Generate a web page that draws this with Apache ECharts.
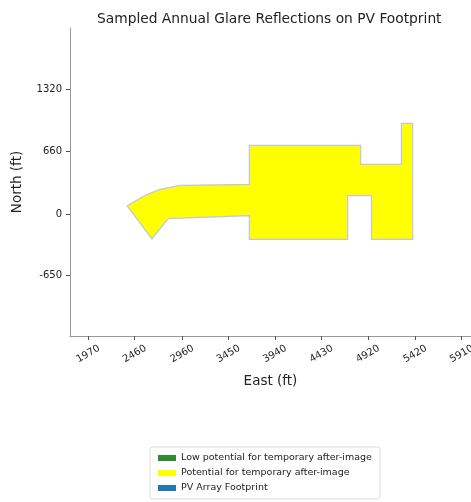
<!DOCTYPE html>
<html>
<head>
<meta charset="utf-8">
<script src="https://cdn.jsdelivr.net/npm/echarts@6/dist/echarts.min.js"></script>
<style>html,body{margin:0;padding:0;background:#fff;}#c{width:471px;height:502px;}</style>
</head>
<body>
<div id="c"></div>
<script>
// Tick labels
const xTicks = [1970, 2460, 2960, 3450, 3940, 4430, 4920, 5420, 5910];
const yTicks = [-650, 0, 660, 1320];
// PV footprint / glare polygon vertices (East ft, North ft)
const polyEast  = [2389, 2642, 2811, 3676, 3676, 4700, 4700, 4964, 4964, 5386, 5386, 5280, 5280, 4837, 4837, 3676, 3676, 2938, 2727, 2568];
const polyNorth = [84, -253, -42, -11, -262, -262, 200, 200, -260, -260, 950, 950, 517, 517, 718, 718, 306, 295, 253, 190];
const legendNames = ['Low potential for temporary after-image', 'Potential for temporary after-image', 'PV Array Footprint'];
const legendColors = ['#2e8b2e', '#ffff00', '#1f77b4'];

const pts = polyEast.map((e, i) => [e, polyNorth[i]]);
function polyRender(fill, stroke, lw) {
  return function (params, api) {
    if (params.dataIndex !== 0) return null;
    const p = pts.map(d => api.coord(d));
    return { type: 'polygon', shape: { points: p }, style: { fill: fill, stroke: stroke, lineWidth: lw } };
  };
}
const chart = echarts.init(document.getElementById('c'), null, { renderer: 'canvas' });
const FONT = 'DejaVu Sans';
chart.setOption({
  animation: false,
  textStyle: { fontFamily: FONT },
  title: { text: 'Sampled Annual Glare Reflections on PV Footprint', left: 92, top: 7,
    textStyle: { fontFamily: FONT, fontSize: 13.8, fontWeight: 'normal', color: '#222' } },
  grid: { left: 70, top: 28, right: 0, bottom: 166, containLabel: false, outerBoundsMode: 'none' },
  legend: {
    orient: 'vertical', left: 150, top: 447, itemWidth: 18, itemHeight: 6, itemGap: 5,
    padding: [6, 8, 6, 8], borderColor: '#ddd', borderWidth: 1, borderRadius: 2,
    icon: 'rect', selectedMode: false,
    textStyle: { fontFamily: FONT, fontSize: 9.5, color: '#222' },
    data: legendNames.map((n, i) => ({ name: n, itemStyle: { color: legendColors[i] } }))
  },
  xAxis: {
    type: 'value', min: 1777, max: 6008, name: 'East (ft)', nameLocation: 'middle', nameGap: 38,
    nameTextStyle: { fontFamily: FONT, fontSize: 13.5, color: '#222' },
    axisLine: { onZero: false, lineStyle: { color: '#999' } },
    axisTick: { show: true, customValues: xTicks, length: 4, lineStyle: { color: '#555' } },
    axisLabel: { customValues: xTicks, rotate: 30, align: 'center', verticalAlign: 'middle',
      fontSize: 10, color: '#222', margin: 18,
      formatter: v => String(v), showMaxLabel: true, showMinLabel: true },
    splitLine: { show: false }
  },
  yAxis: {
    type: 'value', min: -1287, max: 1963, name: 'North (ft)', nameLocation: 'middle', nameGap: 46,
    nameTextStyle: { fontFamily: FONT, fontSize: 13.5, color: '#222' },
    axisLine: { show: true, onZero: false, lineStyle: { color: '#999' } },
    axisTick: { show: true, customValues: yTicks, length: 4, lineStyle: { color: '#555' } },
    axisLabel: { customValues: yTicks, fontSize: 10, color: '#222', margin: 8, formatter: v => String(v) },
    splitLine: { show: false }
  },
  series: [
    { name: legendNames[0], type: 'custom', data: [], itemStyle: { color: legendColors[0] }, renderItem: () => null },
    { name: legendNames[2], type: 'custom', data: pts, itemStyle: { color: legendColors[2] }, z: 2,
      renderItem: polyRender('rgba(31,119,180,0.15)', 'rgba(120,130,200,0.45)', 2.5) },
    { name: legendNames[1], type: 'custom', data: pts, itemStyle: { color: legendColors[1] }, z: 3,
      renderItem: polyRender('#ffff00', null, 0) }
  ]
});
</script>
</body>
</html>
